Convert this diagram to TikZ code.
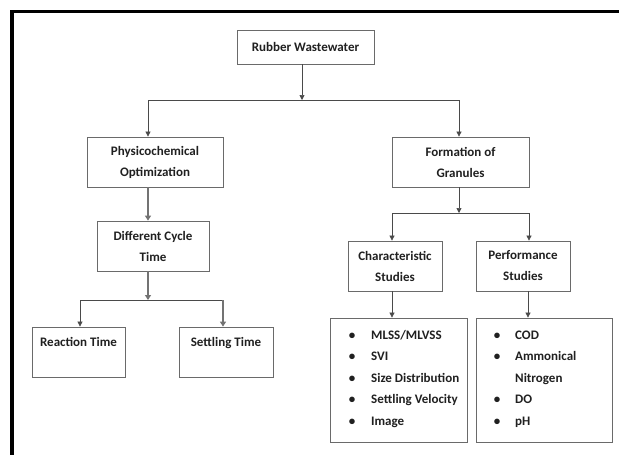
\documentclass[tikz,border=0pt]{standalone}
\usepackage{fontspec}
\setmainfont{Carlito}
\usetikzlibrary{arrows.meta,shadows}
\definecolor{boxline}{HTML}{6A6A6A}
\definecolor{conn}{HTML}{4A4A4A}
\definecolor{txt}{HTML}{202020}
\newcommand{\bul}[1]{\makebox[#1][l]{\makebox[0pt]{\textbullet}}}
\begin{document}
\begin{tikzpicture}[x=1pt,y=-1pt,
  box/.style={draw=boxline, line width=0.8pt, fill=white, inner sep=0pt,
    drop shadow={shadow xshift=1.2pt, shadow yshift=-1.2pt, fill=black!25, opacity=1},
    font=\fontsize{13}{21}\selectfont\bfseries, text=txt, align=center},
  conline/.style={draw=conn, line width=0.7pt},
  arr/.style={conline, -{Triangle[length=5pt,width=5pt]}},
  arrthick/.style={draw=black!55, line width=2pt, -{Triangle[length=5pt,width=6pt]}},
  listtxt/.style={inner sep=0pt, anchor=base west, text=txt,
    font=\fontsize{13}{21.6}\selectfont\bfseries}
]
\useasboundingbox (0,0) rectangle (619,455);
% frame
\fill[black] (10,9.5) rectangle (619,13);
\fill[black] (10,9.5) rectangle (14,455);

% boxes
\node[box, minimum width=137pt, minimum height=34pt] (rw) at (305.5,47) {Rubber Wastewater};
\node[box, minimum width=136pt, minimum height=50pt] (phys) at (155,162) {Physicochemical\\Optimization};
\node[box, minimum width=137pt, minimum height=50pt] (form) at (460.5,162) {Formation of\\Granules};
\node[box, minimum width=112pt, minimum height=50pt] (diff) at (153,246) {Different Cycle\\Time};
\node[box, minimum width=93pt, minimum height=50pt] (react) at (78.5,352) {Reaction Time\\~};
\node[box, minimum width=94pt, minimum height=50pt] (settle) at (226,352) {Settling Time\\~};
\node[box, minimum width=94pt, minimum height=50pt] (char) at (395,266) {Characteristic\\Studies};
\node[box, minimum width=94pt, minimum height=50pt] (perf) at (523,266) {Performance\\Studies};
\node[box, minimum width=137pt, minimum height=124pt] (clist) at (398.5,380) {};
\node[box, minimum width=136pt, minimum height=124pt] (plist) at (544,380) {};

% list texts
\node[listtxt] (ctext) at (352,339) {\begin{tabular}[t]{@{}l@{}}
\bul{19pt}MLSS/MLVSS\\
\bul{19pt}SVI\\
\bul{19pt}Size Distribution\\
\bul{19pt}Settling Velocity\\
\bul{19pt}Image
\end{tabular}};
\node[listtxt] (ptext) at (497,339) {\begin{tabular}[t]{@{}l@{}}
\bul{18pt}COD\\
\bul{18pt}Ammonical\\
\hspace{18pt}Nitrogen\\
\bul{18pt}DO\\
\bul{18pt}pH
\end{tabular}};

% junction coordinates
\coordinate (j1) at (302,100);
\coordinate (jL) at (148,100);
\coordinate (jR) at (459,100);
\coordinate (j2) at (148,300);
\coordinate (j2L) at (80,300);
\coordinate (j2R) at (223,300);
\coordinate (j3) at (459,213);
\coordinate (j3L) at (392,213);
\coordinate (j3R) at (529,213);
\coordinate (xc) at (392,0);
\coordinate (xp) at (528,0);

% connectors
\draw[arr] (j1 |- rw.south) -- (j1);
\draw[conline] (jL) -- (jR);
\draw[arr] (jL) -- (jL |- phys.north);
\draw[arr] (jR) -- (jR |- form.north);
\draw[arrthick] (jL |- phys.south) -- (jL |- diff.north);
\draw[arrthick] (j2 |- diff.south) -- (j2);
\draw[conline] (j2L) -- (j2R);
\draw[arr] (j2L) -- (j2L |- react.north);
\draw[arrthick] (j2R) -- (j2R |- settle.north);
\draw[arr] (j3 |- form.south) -- (j3);
\draw[conline] (j3L) -- (j3R);
\draw[arr] (j3L) -- (j3L |- char.north);
\draw[arr] (j3R) -- (j3R |- perf.north);
\draw[arr] (xc |- char.south) -- (xc |- clist.north);
\draw[arr] (xp |- perf.south) -- (xp |- plist.north);
\end{tikzpicture}
\end{document}
